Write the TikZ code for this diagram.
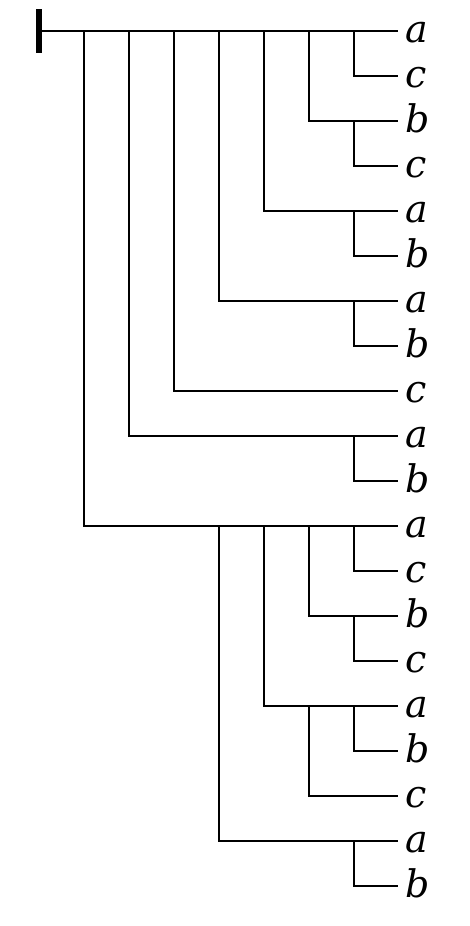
\documentclass[tikz,border=0pt]{standalone}
\usepackage{fontspec}
\setmainfont{DejaVu Serif}
\begin{document}
\begin{tikzpicture}[x=1pt,y=-1pt,line width=1.6pt,
  leaf/.style={anchor=west,inner xsep=7pt,inner ysep=0pt,text height=23pt,text depth=0pt,
    font=\fontsize{38}{38}\selectfont\itshape},
  edge/.style={draw=black}]
\useasboundingbox (0,0) rectangle (469,926);
\node[fill=black,minimum width=6pt,minimum height=44pt,inner sep=0pt] (root) at (38.5,31) {};
\foreach \i/\t in {1/a,2/c,3/b,4/c,5/a,6/b,7/a,8/b,9/c,10/a,11/b,12/a,13/c,14/b,15/c,16/a,17/b,18/c,19/a,20/b}{
  \node[leaf] (L\i) at (398,{31+45*(\i-1)}) {\t};
}
% junctions on the top line
\coordinate (c1) at (84,31);
\coordinate (c2) at (129,31);
\coordinate (c3) at (174,31);
\coordinate (c4) at (219,31);
\coordinate (c5) at (264,31);
\coordinate (c6) at (309,31);
\coordinate (c7) at (354,31);
\coordinate (d2) at (354,436);
\coordinate (d4) at (354,301);
\coordinate (d5) at (354,211);
\coordinate (d6) at (354,121);
% junctions of the lower subtree
\coordinate (e1) at (219,526);
\coordinate (e2) at (264,526);
\coordinate (e3) at (309,526);
\coordinate (e4) at (354,526);
\coordinate (f1) at (354,841);
\coordinate (f2) at (309,706);
\coordinate (f3) at (354,706);
\coordinate (f4) at (354,616);

\draw[edge] (root.center) -- (L1.west);
\draw[edge] (c1) |- (L12.west);
\draw[edge] (c2) |- (L10.west);
\draw[edge] (d2) |- (L11.west);
\draw[edge] (c3) |- (L9.west);
\draw[edge] (c4) |- (L7.west);
\draw[edge] (d4) |- (L8.west);
\draw[edge] (c5) |- (L5.west);
\draw[edge] (d5) |- (L6.west);
\draw[edge] (c6) |- (L3.west);
\draw[edge] (d6) |- (L4.west);
\draw[edge] (c7) |- (L2.west);
\draw[edge] (e1) |- (L19.west);
\draw[edge] (f1) |- (L20.west);
\draw[edge] (e2) |- (L16.west);
\draw[edge] (f2) |- (L18.west);
\draw[edge] (f3) |- (L17.west);
\draw[edge] (e3) |- (L14.west);
\draw[edge] (f4) |- (L15.west);
\draw[edge] (e4) |- (L13.west);
\end{tikzpicture}
\end{document}
